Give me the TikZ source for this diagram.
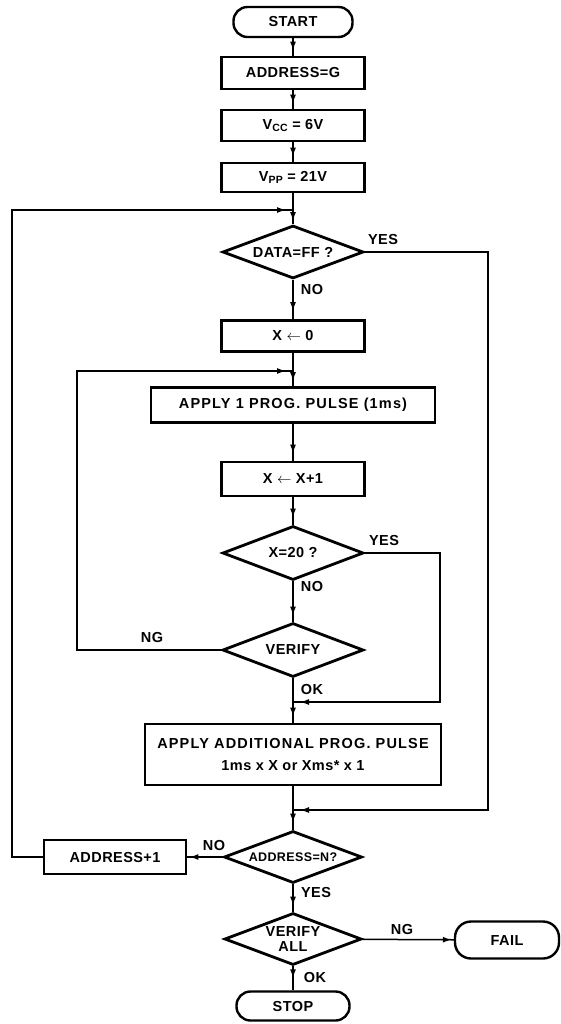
\documentclass[tikz,border=0pt]{standalone}
\usepackage{fontspec}
\newfontfamily\chartfont[LetterSpace=3]{Liberation Sans}
\newfontfamily\widefont[LetterSpace=8]{Liberation Sans}
\usetikzlibrary{shapes.geometric, arrows.meta, decorations.markings}

\tikzset{
  txt/.style={font=\chartfont\bfseries\fontsize{14.5}{17}\selectfont, inner sep=0pt},
  wide/.style={font=\widefont\bfseries\fontsize{14.5}{17}\selectfont},
  box/.style={txt, draw, line width=2.8pt, minimum width=143pt, minimum height=31pt},
  decide/.style={txt, draw, diamond, aspect=2.6, line width=2.8pt, minimum width=141pt, minimum height=54pt},
  term/.style={txt, draw, line width=2.4pt, rounded corners=14pt, minimum height=30pt},
  lbl/.style={txt},
  link/.style={line width=1.5pt},
  arr/.style={link, postaction=decorate,
    decoration={markings, mark=at position -#1 with {\arrow{Latex[length=9pt,width=6pt]}}}},
  arr/.default=5pt
}
\newcommand\subtxt[1]{\raisebox{-2.5pt}{\fontsize{10.5}{10.5}\selectfont #1}}

\begin{document}
\begin{tikzpicture}[x=1pt, y=-1pt]
\useasboundingbox (0,0) rectangle (561,1024);

% main column
\node[term, minimum width=119pt] (start) at (293,22) {START};
\node[box, minimum height=32pt] (addg) at (293,73) {ADDRESS=G};
\node[box] (vcc) at (293,125.5) {V\subtxt{CC} = 6V};
\node[box, minimum height=29pt] (vpp) at (293,177.5) {V\subtxt{PP} = 21V};
\node[decide, minimum height=53pt] (data) at (293,252) {DATA=FF ?};
\node[box] (x0) at (293,336) {X $\leftarrow$ 0};
\node[box, wide, minimum width=284pt, minimum height=35pt] (apply1) at (293,405) {APPLY 1 PROG. PULSE (1ms)};
\node[box, minimum height=34pt] (xinc) at (293,479) {X $\leftarrow$ X+1};
\node[decide] (x20) at (293,553) {X=20 ?};
\node[decide] (verify) at (293,650) {VERIFY};
\node[box, wide, minimum width=296pt, minimum height=61pt, align=center] (applyadd) at (293,754.5)
  {APPLY ADDITIONAL PROG. PULSE\\[5pt]{\chartfont\bfseries 1ms x X or Xms* x 1}};
\node[decide, font=\chartfont\bfseries\fontsize{12.5}{15}\selectfont, minimum width=138pt, minimum height=52pt] (addrn) at (293,857) {ADDRESS=N?};
\node[box, minimum width=142pt, minimum height=34pt] (addp) at (115,857) {ADDRESS+1};
\node[decide, minimum width=137pt, minimum height=52pt, align=center] (vall) at (293,939)
  {VERIFY\\[-2pt]ALL};
\node[term, minimum width=104pt, minimum height=37pt, rounded corners=16pt] (fail) at (507,940) {FAIL};
\node[term, minimum width=113pt, minimum height=29pt] (stop) at (293,1006) {STOP};

% branch labels
\node[lbl] (l1) at (383,240) {YES};
\node[lbl] (l2) at (312,290) {NO};
\node[lbl] (l3) at (384,541) {YES};
\node[lbl] (l4) at (312,587) {NO};
\node[lbl] (l5) at (152,638) {NG};
\node[lbl] (l6) at (312,690) {OK};
\node[lbl] (l7) at (214,845) {NO};
\node[lbl] (l8) at (316,892) {YES};
\node[lbl] (l9) at (402,929) {NG};
\node[lbl] (l10) at (315,977) {OK};

% junction and corner points
\coordinate (j1) at (293,210); \coordinate (c1) at (12,210);
\coordinate (j2) at (293,371); \coordinate (c2) at (77,371);
\coordinate (j3) at (293,702); \coordinate (c3) at (440,702);
\coordinate (j4) at (293,810); \coordinate (c4) at (488,810);

% straight flow
\draw[arr] (start) -- (addg);
\draw[arr] (addg) -- (vcc);
\draw[arr] (vcc) -- (vpp);
\draw[arr=3pt] (vpp) -- (data);
\draw[arr=8pt] (data) -- (x0);
\draw[arr] (x0) -- (apply1);
\draw[arr=7pt] (apply1) -- (xinc);
\draw[arr=7pt] (xinc) -- (x20);
\draw[arr=6pt] (x20) -- (verify);
\draw[arr=6pt] (verify) -- (applyadd);
\draw[arr=7pt] (applyadd) -- (addrn);
\draw[arr=6pt] (addrn) -- (vall);
\draw[arr=12pt] (vall) -- (stop);
\draw[arr=2pt] (vall) -- (fail);
\draw[arr=2pt] (addrn) -- (addp);

% loops and bypasses
\draw[arr=7pt] (addp.west) -| (c1) -- (j1);
\draw[arr=7pt] (verify.west) -| (c2) -- (j2);
\draw[arr=7pt] (x20.east) -| (c3) -- (j3);
\draw[arr=7pt] (data.east) -| (c4) -- (j4);
\end{tikzpicture}
\end{document}
